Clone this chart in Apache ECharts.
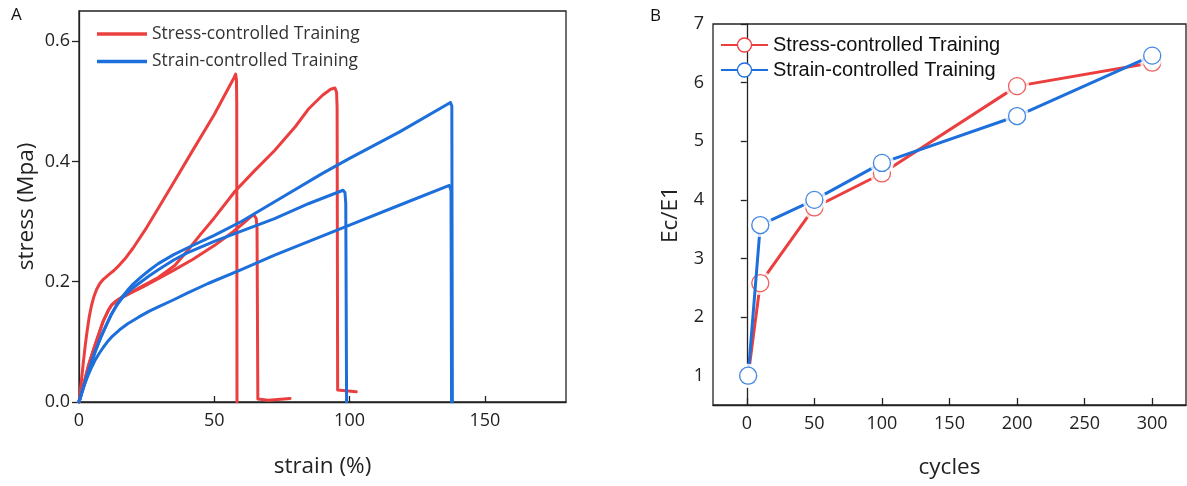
<!DOCTYPE html>
<html>
<head>
<meta charset="utf-8">
<script src="https://cdn.jsdelivr.net/npm/echarts@6/dist/echarts.min.js"></script>
<style>
  html, body { margin: 0; padding: 0; background: #fff; }
  #chart { width: 1187px; height: 486px; }
</style>
</head>
<body>
<div id="chart"></div>
<script>
// tick labels
const aXTicks = [0, 50, 100, 150];
const aYTicks = [0, 0.2, 0.4, 0.6];
const bXTicks = [0, 50, 100, 150, 200, 250, 300];
const bYTicks = [1, 2, 3, 4, 5, 6, 7];

// panel A: stress-strain curves [strain %, stress MPa]
const stressRun1 = [[0, 0], [0.5, 0.018], [1, 0.04], [1.6, 0.066], [2.2, 0.09], [3, 0.118], [3.8, 0.142], [4.6, 0.16],
  [5.5, 0.175], [6.5, 0.187], [7.7, 0.197], [9, 0.204], [10.8, 0.211], [13, 0.219], [15, 0.228], [17, 0.238],
  [20, 0.256], [25, 0.29], [29.3, 0.322], [35, 0.365], [41.6, 0.415], [50, 0.478], [57.4, 0.54], [57.9, 0.545],
  [58.2, 0.535], [58.3, 0.5], [58.4, 0]];
const stressRun2 = [[0, 0], [1.5, 0.025], [3.4, 0.059], [5.2, 0.085], [7.1, 0.11], [9, 0.135], [10.8, 0.152],
  [12, 0.161], [13.5, 0.167], [16, 0.174], [19, 0.181], [23.1, 0.19], [29.3, 0.205], [35.4, 0.22], [42, 0.237],
  [50, 0.26], [57, 0.283], [62, 0.302], [63.8, 0.309], [64.8, 0.31], [65.5, 0.305], [65.8, 0.29], [66.1, 0.005],
  [70, 0.003], [78, 0.006]];
const stressRun3 = [[0, 0], [1.5, 0.025], [3.4, 0.059], [5.2, 0.085], [7.1, 0.11], [9, 0.135], [10.8, 0.152],
  [12, 0.161], [13.5, 0.167], [16, 0.175], [19, 0.182], [23.1, 0.192], [29.3, 0.207], [35.4, 0.227], [40, 0.251],
  [45, 0.279], [50, 0.306], [57.6, 0.35], [65, 0.385], [72.3, 0.418], [80, 0.458], [85, 0.488], [90, 0.51],
  [93, 0.52], [94.6, 0.522], [95.2, 0.515], [95.4, 0.49], [95.6, 0.02], [102.5, 0.017]];
const strainRun1 = [[0, 0], [2, 0.03], [4, 0.058], [6, 0.084], [8, 0.107], [10, 0.127], [12, 0.146], [14, 0.162],
  [16, 0.175], [18, 0.186], [20, 0.196], [23, 0.208], [26, 0.219], [29.3, 0.23], [35, 0.245], [40, 0.256],
  [50, 0.277], [60, 0.3], [72.3, 0.333], [90, 0.38], [100, 0.405], [118.5, 0.449], [137.3, 0.498], [137.8, 0.492],
  [138, 0]];
const strainRun2 = [[0, 0], [2, 0.03], [4, 0.058], [6, 0.084], [8, 0.107], [10, 0.127], [12, 0.146], [14, 0.161],
  [16, 0.173], [18, 0.182], [20, 0.19], [23, 0.2], [26, 0.21], [29.3, 0.22], [35, 0.236], [40, 0.248],
  [50, 0.267], [60, 0.284], [72.3, 0.305], [85, 0.33], [97.6, 0.352], [98.3, 0.348], [98.6, 0.33], [98.9, 0]];
const strainRun3 = [[0, 0], [1, 0.015], [2.2, 0.031], [3.5, 0.046], [4.8, 0.059], [6, 0.07], [7.5, 0.081],
  [9, 0.091], [10.5, 0.1], [12.5, 0.11], [15, 0.12], [18, 0.13], [22, 0.141], [26, 0.151], [29.3, 0.158],
  [35, 0.17], [40, 0.181], [47.7, 0.197], [60, 0.22], [72.3, 0.244], [100, 0.294], [120, 0.33], [136.9, 0.36],
  [137.5, 0.352], [137.7, 0]];

// panel B: modulus ratio vs cycles
const cycles = [1, 10, 50, 100, 200, 300];
const stressRatio = [1, 2.58, 3.87, 4.45, 5.94, 6.34];
const strainRatio = [1, 3.57, 4.0, 4.63, 5.43, 6.46];

const RED = '#EB3F3F';
const BLUE = '#1D6FDB';
const AXIS = '#222';
const FONT = 'Open Sans';

const pair = (xs, ys) => xs.map((x, i) => [x, ys[i]]);

const chart = echarts.init(document.getElementById('chart'));

const curve = (name, color, data) => ({
  name, type: 'line', xAxisIndex: 0, yAxisIndex: 0, data,
  symbol: 'none', silent: true, animation: false,
  lineStyle: { color, width: 3, cap: 'round', join: 'round' },
  itemStyle: { color },
});

// line + white halo + hollow markers, layered by z
const ratioSeries = (name, color, ys, z) => [
  {
    name, type: 'line', xAxisIndex: 1, yAxisIndex: 1, data: pair(cycles, ys), z,
    symbol: 'circle', symbolSize: 17, silent: true, animation: false,
    lineStyle: { color, width: 3 },
    itemStyle: { color: '#fff', borderColor: color, borderWidth: 1.3 },
  },
  {
    name, type: 'scatter', xAxisIndex: 1, yAxisIndex: 1, data: pair(cycles, ys), z: z + 1,
    symbol: 'circle', symbolSize: 24, silent: true, animation: false,
    itemStyle: { color: '#fff' },
  },
  {
    name, type: 'scatter', xAxisIndex: 1, yAxisIndex: 1, data: pair(cycles, ys), z: z + 2,
    symbol: 'circle', symbolSize: 17, silent: true, animation: false,
    itemStyle: { color: '#fff', borderColor: color, borderWidth: 1.3 },
  },
];

const axisText = { color: AXIS, fontFamily: FONT, fontSize: 18 };
const nameText = { fontFamily: FONT, fontSize: 22.5, color: '#222' };

const option = {
  backgroundColor: '#fff',
  animation: false,
  title: [
    { text: 'A', left: 11, top: 7, padding: 0, textStyle: { fontFamily: FONT, fontSize: 17, fontWeight: 'normal', color: '#111' } },
    { text: 'B', left: 650, top: 8, padding: 0, textStyle: { fontFamily: FONT, fontSize: 17, fontWeight: 'normal', color: '#111' } },
  ],
  grid: [
    { left: 79, top: 11, width: 487, height: 391, show: true, borderColor: AXIS, borderWidth: 1.3, backgroundColor: 'transparent' },
    { left: 713, top: 24, width: 473, height: 381, show: true, borderColor: AXIS, borderWidth: 1.3, backgroundColor: 'transparent' },
  ],
  legend: [
    {
      data: ['Stress-controlled Training', 'Strain-controlled Training'],
      icon: 'rect',
      left: 97, top: 24, padding: 0, orient: 'vertical', itemWidth: 50, itemHeight: 3.5, itemGap: 7.5,
      textStyle: { fontFamily: FONT, fontSize: 17.4, color: '#333', lineHeight: 20 },
      selectedMode: false,
    },
    {
      data: [
        { name: 'B:Stress-controlled Training', itemStyle: { color: '#fff', borderColor: RED, borderWidth: 1.3 } },
        { name: 'B:Strain-controlled Training', itemStyle: { color: '#fff', borderColor: BLUE, borderWidth: 1.3 } },
      ],
      formatter: (n) => n.slice(2),
      left: 720, top: 35, padding: 0, orient: 'vertical', itemWidth: 47, itemHeight: 17.5, itemGap: 5,
      textStyle: { fontFamily: 'Liberation Sans', fontSize: 20, color: '#111' },
      selectedMode: false,
    },
  ],
  xAxis: [
    {
      gridIndex: 0, type: 'value', min: 0, max: 180,
      name: 'strain (%)', nameLocation: 'middle', nameGap: 53, nameTextStyle: nameText,
      axisLine: { lineStyle: { color: AXIS, width: 1.3 } },
      axisTick: { inside: true, length: 6, customValues: aXTicks, lineStyle: { color: AXIS, width: 1.3 } },
      axisLabel: { customValues: aXTicks, margin: 10, ...axisText },
      splitLine: { show: false },
    },
    {
      gridIndex: 1, type: 'value', min: -25, max: 325,
      name: 'cycles', nameLocation: 'middle', nameGap: 51, nameTextStyle: nameText,
      axisLine: { lineStyle: { color: AXIS, width: 1.3 } },
      axisTick: { inside: true, length: 7, customValues: bXTicks, lineStyle: { color: AXIS, width: 1.3 } },
      axisLabel: { customValues: bXTicks, margin: 10, ...axisText },
      splitLine: { show: false },
    },
  ],
  yAxis: [
    {
      gridIndex: 0, type: 'value', min: 0, max: 0.65,
      name: 'stress (Mpa)', nameLocation: 'middle', nameGap: 41, nameTextStyle: nameText,
      axisLine: { show: true, lineStyle: { color: AXIS, width: 1.3 } },
      axisTick: { show: true, inside: false, length: 7, customValues: aYTicks, lineStyle: { color: AXIS, width: 1.3 } },
      axisLabel: { customValues: aYTicks, margin: 9, formatter: (v) => v.toFixed(1), ...axisText },
      splitLine: { show: false },
    },
    {
      gridIndex: 1, type: 'value', min: 0.5, max: 7,
      name: 'Ec/E1', nameLocation: 'middle', nameGap: 31, nameTextStyle: nameText,
      axisLine: { show: true, lineStyle: { color: AXIS, width: 1.3 } },
      axisTick: { show: true, inside: false, length: 6, customValues: bYTicks, lineStyle: { color: AXIS, width: 1.3 } },
      axisLabel: { customValues: bYTicks, margin: 9, ...axisText },
      splitLine: { show: false },
    },
  ],
  series: [
    curve('Stress-controlled Training', RED, stressRun1),
    curve('Stress-controlled Training', RED, stressRun2),
    curve('Stress-controlled Training', RED, stressRun3),
    curve('Strain-controlled Training', BLUE, strainRun1),
    curve('Strain-controlled Training', BLUE, strainRun2),
    curve('Strain-controlled Training', BLUE, strainRun3),
    ...ratioSeries('B:Stress-controlled Training', RED, stressRatio, 2),
    ...ratioSeries('B:Strain-controlled Training', BLUE, strainRatio, 5),
  ],
};

chart.setOption(option);
</script>
</body>
</html>
